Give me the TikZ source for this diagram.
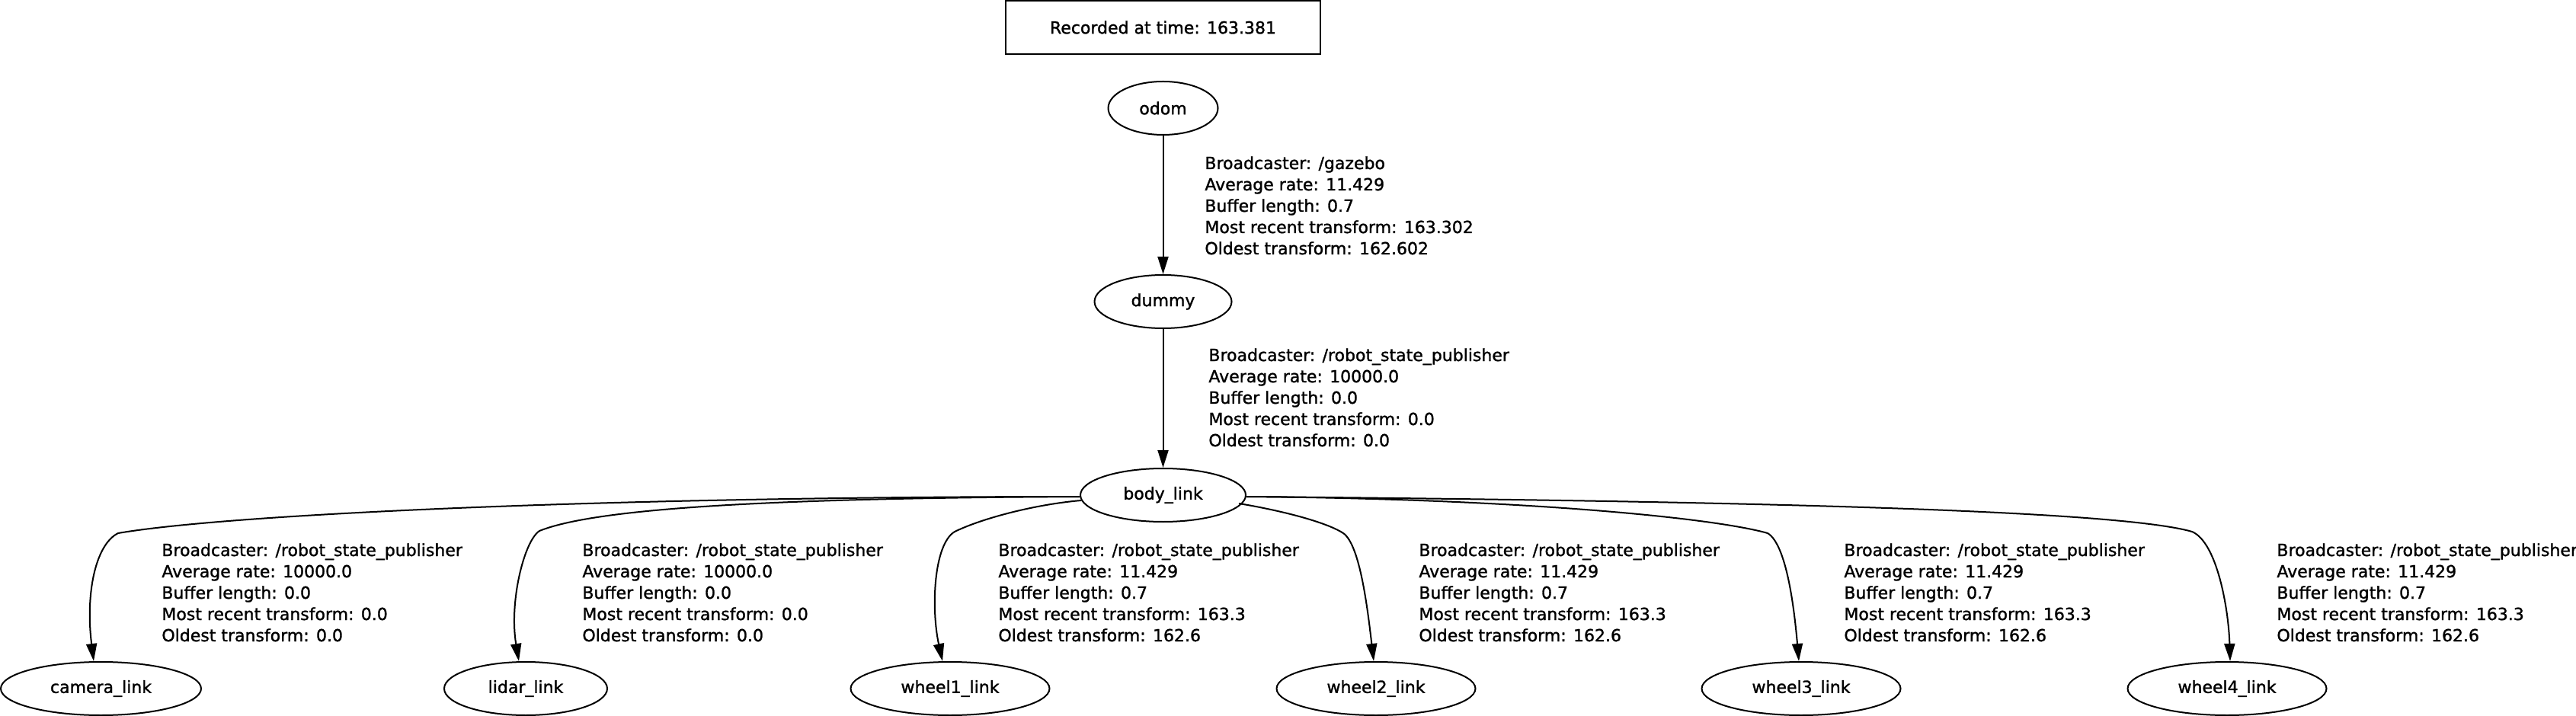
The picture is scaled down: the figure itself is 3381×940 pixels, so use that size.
\documentclass[tikz,border=0pt]{standalone}
\usepackage{fontspec}
\setmainfont{DejaVu Sans}[FakeBold=1.3]
\usetikzlibrary{arrows.meta,shapes.geometric,calc}
\newcommand\tfinfo[5]{\vtop{\baselineskip=14pt\hbox{#1}\hbox{#2}\hbox{#3}\hbox{#4}\hbox{#5}}}
\begin{document}
\begin{tikzpicture}[x=0.5pt,y=-0.5pt,
  tfframe/.style={ellipse,draw,line width=1pt,minimum height=35pt,inner sep=0pt,font=\fontsize{11}{14}\selectfont},
  tfinfobox/.style={anchor=base west,inner sep=0pt,font=\fontsize{11}{14}\selectfont},
  tfarrow/.style={draw,line width=1pt,-{Triangle[length=11.5pt,width=7pt]}}]
\useasboundingbox (0,0) rectangle (3381,940);

\node[draw,line width=1pt,rectangle,minimum width=206.5pt,minimum height=35pt,inner sep=0pt,
      font=\fontsize{11}{14}\selectfont] (rec) at (1526.5,36) {Recorded at time: 163.381};

\node[tfframe,minimum width=72pt] (odom) at (1526.5,142) {odom};
\node[tfframe,minimum width=90pt] (dummy) at (1526.5,396) {dummy};
\node[tfframe,minimum width=108.5pt] (body) at (1526.5,650) {body\_link};

\node[tfframe,minimum width=131.5pt] (camera) at (132.5,904) {camera\_link};
\node[tfframe,minimum width=107pt] (lidar) at (690,904) {lidar\_link};
\node[tfframe,minimum width=130.5pt] (wheel1) at (1247,904) {wheel1\_link};
\node[tfframe,minimum width=130.5pt] (wheel2) at (1806,904) {wheel2\_link};
\node[tfframe,minimum width=130.5pt] (wheel3) at (2364,904) {wheel3\_link};
\node[tfframe,minimum width=130.5pt] (wheel4) at (2923,904) {wheel4\_link};

\draw[tfarrow] (odom) -- (dummy);
\draw[tfarrow] (dummy) -- (body);

\draw[tfarrow] ($(body.west)+(0,2)$) .. controls (800,652) and (300,675) .. (155,700)
   .. controls (125,715) and (112,780) .. ($(camera.north)+(-9.5,0)$);
\draw[tfarrow] ($(body.west)+(0,2)$) .. controls (1000,654) and (780,668) .. (708,697)
   .. controls (688,710) and (668,790) .. ($(lidar.north)+(-9,0)$);
\draw[tfarrow] ($(body.west)+(2,7)$) .. controls (1360,662) and (1290,680) .. (1253,698)
   .. controls (1225,715) and (1222,800) .. ($(wheel1.north)+(-10,0)$);
\draw[tfarrow] ($(body.east)+(-10,11)$) .. controls (1680,670) and (1740,685) .. (1763,700)
   .. controls (1785,715) and (1795,800) .. ($(wheel2.north)+(-3,0)$);
\draw[tfarrow] ($(body.east)+(0,2)$) .. controls (2000,655) and (2250,680) .. (2320,700)
   .. controls (2345,715) and (2355,800) .. ($(wheel3.north)+(-3,0)$);
\draw[tfarrow] ($(body.east)+(0,2)$) .. controls (2300,658) and (2780,670) .. (2877,698)
   .. controls (2910,712) and (2925,800) .. ($(wheel4.north)+(4,0)$);

\node[tfinfobox] (l1) at (1581,222) {\tfinfo{Broadcaster: /gazebo}{Average rate: 11.429}{Buffer length: 0.7}{Most recent transform: 163.302}{Oldest transform: 162.602}};
\node[tfinfobox] (l2) at (1586,474) {\tfinfo{Broadcaster: /robot\_state\_publisher}{Average rate: 10000.0}{Buffer length: 0.0}{Most recent transform: 0.0}{Oldest transform: 0.0}};
\node[tfinfobox] (l3) at (212,730) {\tfinfo{Broadcaster: /robot\_state\_publisher}{Average rate: 10000.0}{Buffer length: 0.0}{Most recent transform: 0.0}{Oldest transform: 0.0}};
\node[tfinfobox] (l4) at (764,730) {\tfinfo{Broadcaster: /robot\_state\_publisher}{Average rate: 10000.0}{Buffer length: 0.0}{Most recent transform: 0.0}{Oldest transform: 0.0}};
\node[tfinfobox] (l5) at (1310,730) {\tfinfo{Broadcaster: /robot\_state\_publisher}{Average rate: 11.429}{Buffer length: 0.7}{Most recent transform: 163.3}{Oldest transform: 162.6}};
\node[tfinfobox] (l6) at (1862,730) {\tfinfo{Broadcaster: /robot\_state\_publisher}{Average rate: 11.429}{Buffer length: 0.7}{Most recent transform: 163.3}{Oldest transform: 162.6}};
\node[tfinfobox] (l7) at (2420,730) {\tfinfo{Broadcaster: /robot\_state\_publisher}{Average rate: 11.429}{Buffer length: 0.7}{Most recent transform: 163.3}{Oldest transform: 162.6}};
\node[tfinfobox] (l8) at (2988,730) {\tfinfo{Broadcaster: /robot\_state\_publisher}{Average rate: 11.429}{Buffer length: 0.7}{Most recent transform: 163.3}{Oldest transform: 162.6}};
\end{tikzpicture}
\end{document}
